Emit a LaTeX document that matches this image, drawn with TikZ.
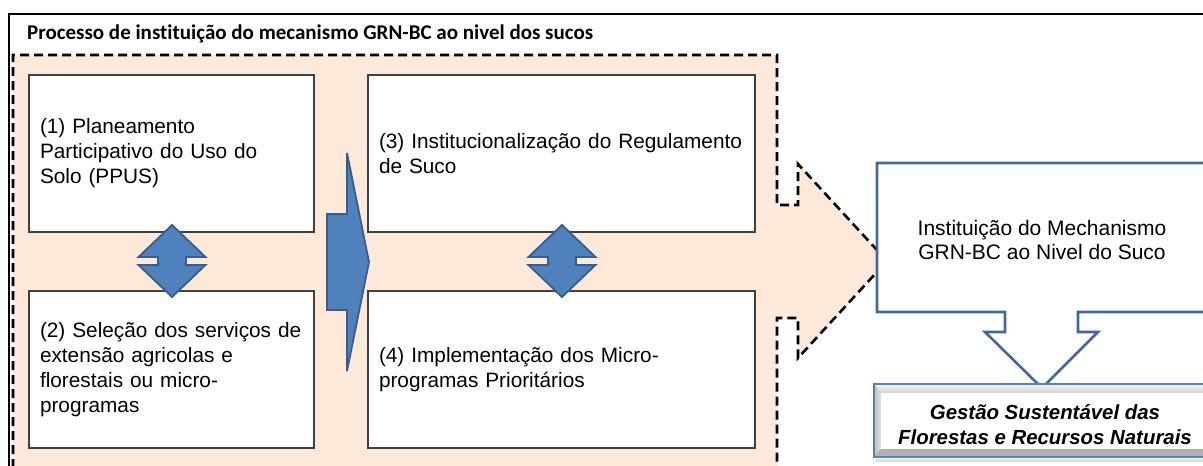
\documentclass[tikz,border=0pt]{standalone}
\usepackage{fontspec}
\setmainfont{Liberation Sans}
\newfontfamily\titlefont[Ligatures={NoCommon,NoRare,NoDiscretionary}]{Carlito}
\definecolor{peach}{RGB}{253,233,217}
\definecolor{bfill}{RGB}{79,129,189}
\definecolor{bdark}{RGB}{56,93,138}
\definecolor{bborder}{RGB}{68,104,156}
\definecolor{gborder}{RGB}{64,64,64}
\definecolor{bevblue}{RGB}{92,128,182}
\tikzset{
  wbox/.style={draw=gborder, line width=1.2pt, fill=white, anchor=north west, outer sep=0pt,
    inner xsep=11pt, inner ysep=0pt, align=left, font=\fontsize{20.8}{25}\selectfont},
  barrow/.style={fill=bfill, draw=bdark, line width=1.8pt, line join=miter},
  dashline/.style={draw=black, line width=2.6pt, dash pattern=on 9pt off 5pt}
}
\begin{document}
\begin{tikzpicture}[x=1pt,y=-1pt]
\useasboundingbox (0,0) rectangle (1203,466);
\clip (0,0) rectangle (1203,466);
\fill[white] (0,0) rectangle (1203,466);
% outer frame
\draw[line width=2.4pt] (9,480) -- (9,14) -- (1220,14);
% peach dashed region with arrow
\filldraw[fill=peach, dashline, line join=miter]
  (13,468) -- (13,55) -- (777,55) -- (777,205) -- (798,205) -- (798,164)
  -- (887,261) -- (798,358) -- (798,318) -- (777,318) -- (777,468);
% white boxes
\node[wbox, minimum width=285, minimum height=157, text width=263] (b1) at (29,75)
  {(1) Planeamento\\Participativo do Uso do\\Solo (PPUS)};
\node[wbox, minimum width=285, minimum height=157, text width=263] (b2) at (29,291)
  {(2) Seleção dos serviços de\\extensão agricolas e\\florestais ou micro-\\programas};
\node[wbox, minimum width=387, minimum height=157, text width=365] (b3) at (368,75)
  {(3) Institucionalização do Regulamento\\de Suco};
\node[wbox, minimum width=387, minimum height=157, text width=365] (b4) at (368,291)
  {(4) Implementação dos Micro-\\programas Prioritários};
% big right arrow
\draw[barrow] (327,214) -- (347,214) -- (347,153) -- (369,262) -- (347,371) -- (347,310) -- (327,310) -- cycle;
% up-down arrows
\foreach \cx in {172,562}{
  \draw[barrow] (\cx,225) -- (\cx+33.5,257) -- (\cx+14,257) -- (\cx+14,265) -- (\cx+33.5,265)
    -- (\cx,297) -- (\cx-33.5,265) -- (\cx-14,265) -- (\cx-14,257) -- (\cx-33.5,257) -- cycle;
}
% right callout box
\draw[fill=white, draw=bborder, line width=2.6pt, line join=miter]
  (877,163) -- (1208,163) -- (1208,312) -- (1078,312) -- (1078,332) -- (1098,332)
  -- (1042,388) -- (985,332) -- (1005,332) -- (1005,312) -- (877,312) -- cycle;
\node[align=center, font=\fontsize{21}{24}\selectfont] (inst) at (1042,240)
  {Instituição do Mechanismo\\GRN-BC ao Nivel do Suco};
% bottom bevel box
\fill[gray!25] (876,459) rectangle (1215,462);
\fill[gray!45] (874,384) rectangle (1215,457);
\shade[top color=gray!10, bottom color=gray!35] (874,384) -- (1215,384) -- (1215,393) -- (881,393) -- cycle;
\shade[left color=gray!50, right color=gray!25] (874,384) -- (881,393) -- (881,449) -- (874,457) -- cycle;
\fill[gray!60] (874,457) -- (881,449) -- (1215,449) -- (1215,457) -- cycle;
\fill[white] (881,393) rectangle (1215,449);
\draw[draw=bevblue, line width=2pt] (1215,384) -- (874,384) -- (874,457) -- (1215,457);
\node[align=center, font=\fontsize{20.4}{25}\selectfont\bfseries\itshape] (gest) at (1045,424.5)
  {Gestão Sustentável das\\Florestas e Recursos Naturais};
% title
\node[anchor=west, inner sep=0pt, font=\titlefont\bfseries\fontsize{21}{24}\selectfont] (title) at (27,34)
  {Processo de instituição do mecanismo GRN-BC ao nivel dos sucos};
\end{tikzpicture}
\end{document}
